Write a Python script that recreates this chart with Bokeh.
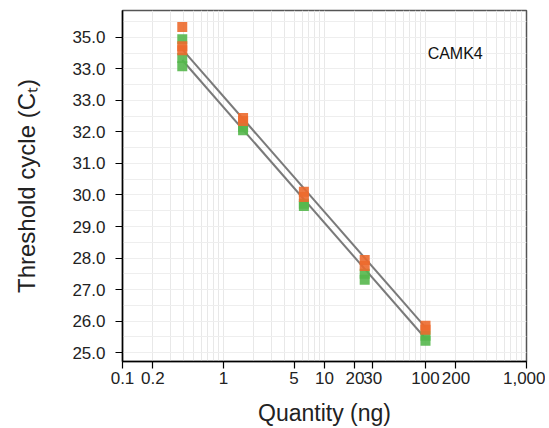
from bokeh.plotting import figure
from bokeh.models import FixedTicker, Label
from bokeh.embed import file_html
from bokeh.resources import INLINE

# Data
quantity_pts = [0.390625, 0.390625, 0.390625, 1.5625, 1.5625, 6.25, 6.25, 25, 25, 100, 100]
orange_ct = [35.33, 34.72, 34.59, 32.44, 32.35, 30.10, 29.94, 27.94, 27.75, 25.85, 25.73]
green_ct = [34.94, 34.34, 34.08, 32.15, 32.05, 29.72, 29.65, 27.50, 27.31, 25.54, 25.38]
fit_x = [0.390625, 100]
orange_fit = [34.62, 25.80]
green_fit = [34.28, 25.45]

x_ticks = [0.1, 0.2, 1, 5, 10, 20, 30, 100, 200, 1000]
x_tick_labels = ["0.1", "0.2", "1", "5", "10", "20", "30", "100", "200", "1,000"]
y_ticks = [25, 26, 27, 28, 29, 30, 31, 32, 33, 34, 35]
y_tick_labels = ["25.0", "26.0", "27.0", "28.0", "29.0", "30.0", "31.0", "32.0", "33.0", "33.0", "35.0"]

FONT = "Liberation Sans"

p = figure(width=545, height=428, x_axis_type="log",
           x_range=(0.1, 1000), y_range=(24.72, 35.85),
           output_backend="svg", toolbar_location=None,
           min_border_left=122, min_border_right=19,
           min_border_top=10, min_border_bottom=64)

p.outline_line_color = "#555555"
p.outline_line_width = 1.5

# grid
minor = []
for dec in [0.1, 1, 10, 100]:
    minor += [dec * k for k in range(1, 10)]
minor.append(1000)
p.xgrid.ticker = FixedTicker(ticks=minor)
p.xgrid.grid_line_color = "#e8e8e8"
p.ygrid.ticker = FixedTicker(ticks=[25 + 0.5 * i for i in range(22)])
p.ygrid.grid_line_color = "#eeeeee"

# axes
p.xaxis.ticker = FixedTicker(ticks=x_ticks)
p.xaxis.major_label_overrides = {t: l for t, l in zip(x_ticks, x_tick_labels)}
p.yaxis.ticker = FixedTicker(ticks=y_ticks)
p.yaxis.major_label_overrides = {t: l for t, l in zip(y_ticks, y_tick_labels)}

for ax in (p.xaxis, p.yaxis):
    ax.axis_line_color = "black"
    ax.axis_line_width = 1.5
    ax.major_tick_line_color = "black"
    ax.major_tick_line_width = 1.2
    ax.major_tick_in = 0
    ax.major_tick_out = 7
    ax.minor_tick_line_color = None
    ax.major_label_text_font = FONT
    ax.major_label_text_font_size = "17px"
    ax.major_label_text_color = "#222222"
    ax.axis_label_text_font = FONT
    ax.axis_label_text_font_style = "normal"
    ax.axis_label_text_color = "#222222"

p.xaxis.axis_label_text_font_size = "23px"
p.yaxis.axis_label_text_font_size = "24px"
p.xaxis.axis_label = "Quantity (ng)"
p.yaxis.axis_label = "Threshold cycle (C\u209c)"
p.xaxis.major_label_standoff = 3
p.xaxis.axis_label_standoff = 13
p.yaxis.major_label_standoff = 10
p.yaxis.axis_label_standoff = 29

# fit lines
p.line(fit_x, orange_fit, line_color="#7a7a7a", line_width=2)
p.line(fit_x, green_fit, line_color="#7a7a7a", line_width=2)

# points
p.scatter(quantity_pts, green_ct, marker="square", size=10,
          fill_color="#55b74c", line_color=None, fill_alpha=0.9)
p.scatter(quantity_pts, orange_ct, marker="square", size=10,
          fill_color="#ec6a2e", line_color=None, fill_alpha=0.9)

p.add_layout(Label(x=105, y=34.49, text="CAMK4", text_font=FONT,
                   text_font_size="16px", text_baseline="middle",
                   text_color="#111111"))

open("out.html", "w").write(file_html(p, INLINE))
